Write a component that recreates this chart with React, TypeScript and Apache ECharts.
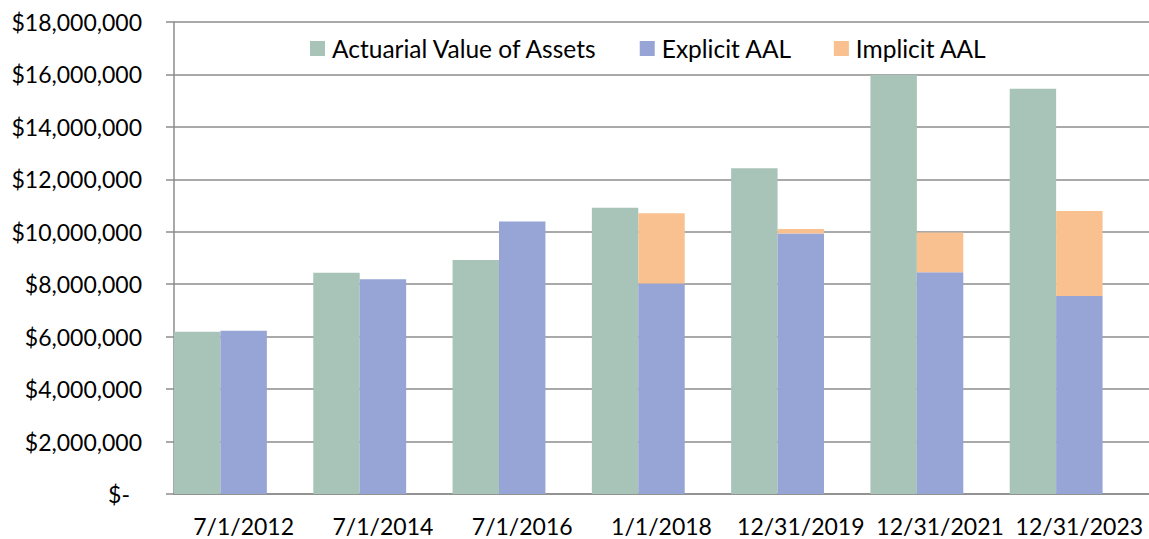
import React, { useEffect, useRef } from "react";
import * as echarts from "echarts";

const categories = ["7/1/2012", "7/1/2014", "7/1/2016", "1/1/2018", "12/31/2019", "12/31/2021", "12/31/2023"];
const actuarialValue = [6190000, 8440000, 8920000, 10920000, 12420000, 15980000, 15450000];
const explicitAAL = [6230000, 8190000, 10390000, 8030000, 9930000, 8460000, 7550000];
const implicitAAL = [0, 0, 0, 2680000, 180000, 1510000, 3240000];
const seriesNames = ["Actuarial Value of Assets", "Explicit AAL", "Implicit AAL"];
const colors = ["#A8C3B8", "#96A4D6", "#F8C18F"];

const FONT = "Lato";

export default function App() {
  const ref = useRef<HTMLDivElement>(null);
  useEffect(() => {
    if (!ref.current) return;
    const chart = echarts.init(ref.current, undefined, { renderer: "svg" });
    chart.setOption({
      animation: false,
      textStyle: { fontFamily: FONT },
      legend: {
        data: seriesNames,
        left: 310,
        top: 36,
        padding: 0,
        itemWidth: 15,
        itemHeight: 15,
        itemGap: 42,
        icon: "rect",
        textStyle: { fontFamily: FONT, fontSize: 24.5, color: "#000", padding: [0, 0, 0, 2] },
      },
      grid: { left: 174, top: 22, width: 980, height: 472, containLabel: false },
      xAxis: {
        type: "category",
        data: categories,
        axisTick: { show: false },
        axisLine: { lineStyle: { color: "#8c8c8c", width: 1.5 } },
        axisLabel: { fontFamily: FONT, fontSize: 23, color: "#000", margin: 20, interval: 0 },
      },
      yAxis: {
        type: "value",
        min: 0,
        max: 18000000,
        interval: 2000000,
        axisLine: { show: true, lineStyle: { color: "#8c8c8c", width: 1.5 } },
        axisTick: { show: true, length: 8, lineStyle: { color: "#8c8c8c", width: 1.5 } },
        splitLine: { lineStyle: { color: "#8c8c8c", width: 1.5 } },
        axisLabel: {
          fontFamily: FONT,
          fontSize: 23,
          color: "#000",
          margin: 32,
          formatter: (v: number) =>
            v === 0 ? "{z|$-}" : "$" + v.toLocaleString("en-US"),
          rich: { z: { fontFamily: FONT, fontSize: 23, color: "#000", padding: [0, 12, 0, 0] } },
        },
      },
      series: [
        {
          name: seriesNames[0],
          type: "bar",
          data: actuarialValue,
          itemStyle: { color: colors[0] },
          barGap: "0%",
          barCategoryGap: "0%",
        },
        {
          name: seriesNames[1],
          type: "bar",
          stack: "aal",
          data: explicitAAL,
          itemStyle: { color: colors[1] },
        },
        {
          name: seriesNames[2],
          type: "bar",
          stack: "aal",
          data: implicitAAL,
          itemStyle: { color: colors[2] },
        },
        {
          name: "spacer",
          type: "bar",
          data: categories.map(() => null),
          itemStyle: { color: "transparent" },
        },
      ],
    });
    return () => chart.dispose();
  }, []);
  return (
    <div
      ref={ref}
      style={{ position: "absolute", left: 0, top: 0, width: 1149, height: 539 }}
    />
  );
}
